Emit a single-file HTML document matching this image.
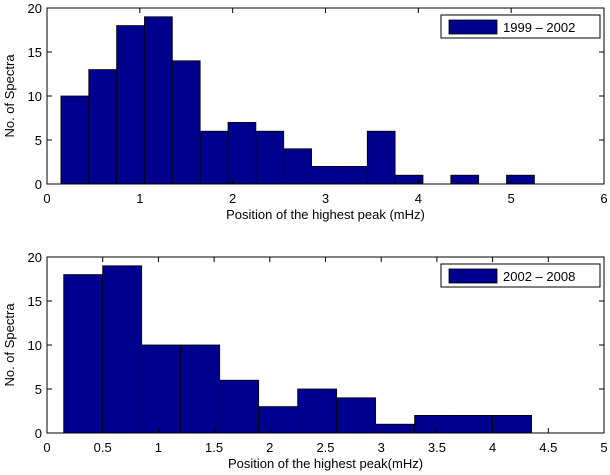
<!DOCTYPE html>
<html><head><meta charset="utf-8"><style>
body{margin:0;background:#fff;}
svg{display:block;font-family:"Liberation Sans",sans-serif;}
</style></head><body>
<svg id="s" width="610" height="475"></svg>
<script>
const topCounts=[10,13,18,19,14,6,7,6,4,2,2,6,1,0,1,0,1,0];
const topStart=0.15, topWidth=0.3;
const topTicks=[0,1,2,3,4,5,6];
const botCounts=[18,19,10,10,6,3,5,4,1,2,2,2];
const botStart=0.15, botWidth=0.35;
const botTicks=[0,0.5,1,1.5,2,2.5,3,3.5,4,4.5,5];
const yTicks=[0,5,10,15,20];
const NS="http://www.w3.org/2000/svg";
const svg=document.getElementById('s');
function el(t,a,p){const e=document.createElementNS(NS,t);for(const k in a)e.setAttribute(k,a[k]);(p||svg).appendChild(e);return e;}
function panel(cfg){
  const g=el('g',{});
  
  
  const L=47,R=604,T=cfg.top,B=cfg.top+176;
  const xs=v=>L+(v-cfg.xmin)/(cfg.xmax-cfg.xmin)*(R-L);
  const ys=v=>B-v/20*(B-T);
  el('rect',{x:L,y:T,width:R-L,height:B-T,fill:'#fff'},g);
  cfg.counts.forEach((c,i)=>{
    const x0=xs(cfg.start+i*cfg.width),x1=xs(cfg.start+(i+1)*cfg.width);
    const r=el('rect',{x:x0,y:ys(c),width:x1-x0,height:B-ys(c),fill:'#00008f',stroke:'#000','stroke-width':0.8},g);
    
    
  });
  el('rect',{x:L,y:T,width:R-L,height:B-T,fill:'none',stroke:'#000','stroke-width':1},g);
  cfg.ticks.forEach(t=>{
    const x=xs(t);
    el('line',{x1:x,x2:x,y1:B,y2:B-5,stroke:'#000'},g);
    el('line',{x1:x,x2:x,y1:T,y2:T+5,stroke:'#000'},g);
    const tx=el('text',{x:x,y:B+19,'text-anchor':'middle','font-size':13},g);tx.textContent=t;
    
    
  });
  yTicks.forEach(t=>{
    const y=ys(t);
    el('line',{x1:L,x2:L+5,y1:y,y2:y,stroke:'#000'},g);
    el('line',{x1:R,x2:R-5,y1:y,y2:y,stroke:'#000'},g);
    const tx=el('text',{x:L-5,y:y+5,'text-anchor':'end','font-size':13},g);tx.textContent=t;
    
    
  });
  const xl=el('text',{x:(L+R)/2,y:B+35,'text-anchor':'middle','font-size':13},g);xl.textContent=cfg.xlabel;
  
  
  const yl=el('text',{x:0,y:0,'text-anchor':'middle','font-size':13,transform:`translate(14,${(T+B)/2}) rotate(-90)`},g);yl.textContent='No. of Spectra';
  
  
  const lg=el('g',{},g);
  
  
  el('rect',{x:441,y:T+7,width:159,height:23,fill:'#fff',stroke:'#000'},lg);
  el('rect',{x:449,y:T+12,width:48,height:14,fill:'#00008f',stroke:'#000','stroke-width':0.8},lg);
  const lt=el('text',{x:503,y:T+24,'font-size':13},lg);lt.textContent=cfg.legend;
}
panel({name:'top-histogram',top:8,xmin:0,xmax:6,counts:topCounts,start:topStart,width:topWidth,ticks:topTicks,xlabel:'Position of the highest peak (mHz)',legend:'1999 – 2002'});
panel({name:'bottom-histogram',top:257,xmin:0,xmax:5,counts:botCounts,start:botStart,width:botWidth,ticks:botTicks,xlabel:'Position of the highest peak(mHz)',legend:'2002 – 2008'});
</script>
</body></html>
